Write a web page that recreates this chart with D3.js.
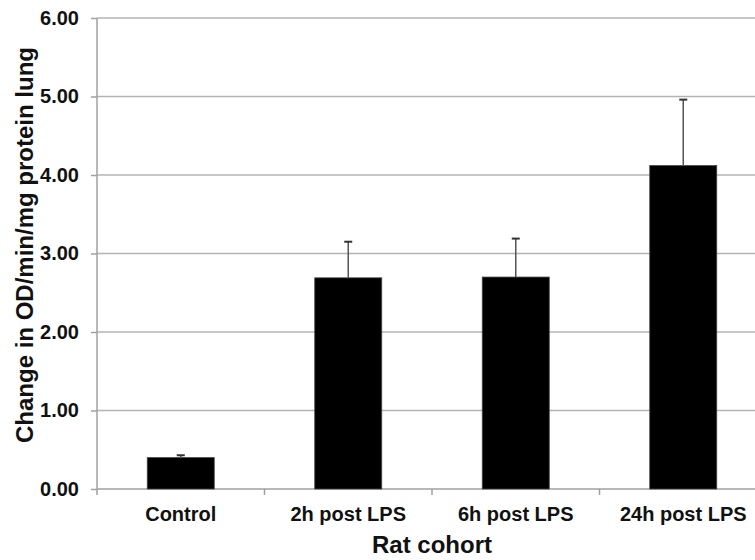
<!DOCTYPE html>
<html>
<head>
<meta charset="utf-8">
<script src="https://cdn.jsdelivr.net/npm/d3@7"></script>
<style>
  body { margin: 0; background: #fff; }
  svg { display: block; font-family: "Liberation Sans", Arial, sans-serif; font-weight: bold; }
</style>
</head>
<body>
<div id="chart"></div>
<script>
// data
var cohorts = ["Control", "2h post LPS", "6h post LPS", "24h post LPS"];
var means = [0.40, 2.69, 2.70, 4.12];
var errors = [0.03, 0.46, 0.49, 0.84];
var yTicks = [0, 1, 2, 3, 4, 5, 6];

function init() {
    var w = 755, h = 560;
    var left = 97, right = 767, top = 18, bottom = 489;

    var svg = d3.select("#chart")
        .append("svg")
        .attr("width", w)
        .attr("height", h);

    var xscale = d3.scaleBand()
        .domain(cohorts)
        .range([left, right])
        .paddingInner(0.6)
        .paddingOuter(0.3);

    var yscale = d3.scaleLinear()
        .domain([0, 6])
        .range([bottom, top]);

    // gridlines
    svg.append("g")
        .selectAll("line")
        .data(yTicks.filter(function(d) { return d > 0; }))
        .enter()
        .append("line")
        .attr("x1", left)
        .attr("x2", right)
        .attr("y1", function(d) { return yscale(d); })
        .attr("y2", function(d) { return yscale(d); })
        .attr("stroke", "#b4b4b4")
        .attr("stroke-width", 1.5);

    // y axis
    var yAxis = d3.axisLeft(yscale)
        .tickValues(yTicks)
        .tickFormat(d3.format(".2f"))
        .tickSize(6)
        .tickPadding(12);

    var gy = svg.append("g")
        .attr("transform", "translate(" + left + ",0)")
        .call(yAxis);
    gy.select(".domain").remove();
    gy.selectAll(".tick line").attr("stroke", "#a0a0a0").attr("stroke-width", 1.5);
    gy.selectAll(".tick text")
        .attr("font-size", 20)
        .attr("font-family", "Liberation Sans, Arial, sans-serif")
        .attr("font-weight", "bold")
        .attr("fill", "#111");
    svg.append("line")
        .attr("x1", left).attr("x2", left)
        .attr("y1", top).attr("y2", bottom + 6)
        .attr("stroke", "#a0a0a0")
        .attr("stroke-width", 1.5);

    // x axis
    var boundaries = d3.range(cohorts.length).map(function(i) {
        return left + i * xscale.step();
    });
    svg.append("line")
        .attr("x1", left).attr("x2", right)
        .attr("y1", bottom).attr("y2", bottom)
        .attr("stroke", "#a0a0a0")
        .attr("stroke-width", 1.5);
    svg.append("g")
        .selectAll("line")
        .data(boundaries.slice(1))
        .enter()
        .append("line")
        .attr("x1", function(d) { return d; })
        .attr("x2", function(d) { return d; })
        .attr("y1", bottom)
        .attr("y2", bottom + 6)
        .attr("stroke", "#a0a0a0")
        .attr("stroke-width", 1.5);

    svg.append("g")
        .selectAll("text")
        .data(cohorts)
        .enter()
        .append("text")
        .attr("x", function(d) { return xscale(d) + xscale.bandwidth() / 2; })
        .attr("y", 521)
        .attr("text-anchor", "middle")
        .attr("font-size", 20)
        .attr("fill", "#111")
        .text(function(d) { return d; });

    // bars
    svg.selectAll("rect.bar")
        .data(means)
        .enter()
        .append("rect")
        .attr("class", "bar")
        .attr("x", function(d, i) { return xscale(cohorts[i]); })
        .attr("y", function(d) { return yscale(d); })
        .attr("width", xscale.bandwidth())
        .attr("height", function(d) { return bottom - yscale(d); })
        .attr("fill", "#000")
        .attr("stroke", "#444")
        .attr("stroke-width", 0.8);

    // error bars
    var eg = svg.append("g");
    eg.selectAll("line.stem")
        .data(means)
        .enter()
        .append("line")
        .attr("x1", function(d, i) { return xscale(cohorts[i]) + xscale.bandwidth() / 2; })
        .attr("x2", function(d, i) { return xscale(cohorts[i]) + xscale.bandwidth() / 2; })
        .attr("y1", function(d) { return yscale(d); })
        .attr("y2", function(d, i) { return yscale(d + errors[i]); })
        .attr("stroke", "#555")
        .attr("stroke-width", 1.5);
    eg.selectAll("line.cap")
        .data(means)
        .enter()
        .append("line")
        .attr("x1", function(d, i) { return xscale(cohorts[i]) + xscale.bandwidth() / 2 - 4; })
        .attr("x2", function(d, i) { return xscale(cohorts[i]) + xscale.bandwidth() / 2 + 4; })
        .attr("y1", function(d, i) { return yscale(d + errors[i]); })
        .attr("y2", function(d, i) { return yscale(d + errors[i]); })
        .attr("stroke", "#333")
        .attr("stroke-width", 2);

    // axis titles
    svg.append("text")
        .attr("x", (left + right) / 2)
        .attr("y", 553)
        .attr("text-anchor", "middle")
        .attr("font-size", 24)
        .attr("fill", "#111")
        .text("Rat cohort");

    svg.append("text")
        .attr("transform", "translate(33," + 245 + ") rotate(-90)")
        .attr("text-anchor", "middle")
        .attr("font-size", 24)
        .attr("fill", "#111")
        .text("Change in OD/min/mg protein lung");
}

window.onload = init;
</script>
</body>
</html>
